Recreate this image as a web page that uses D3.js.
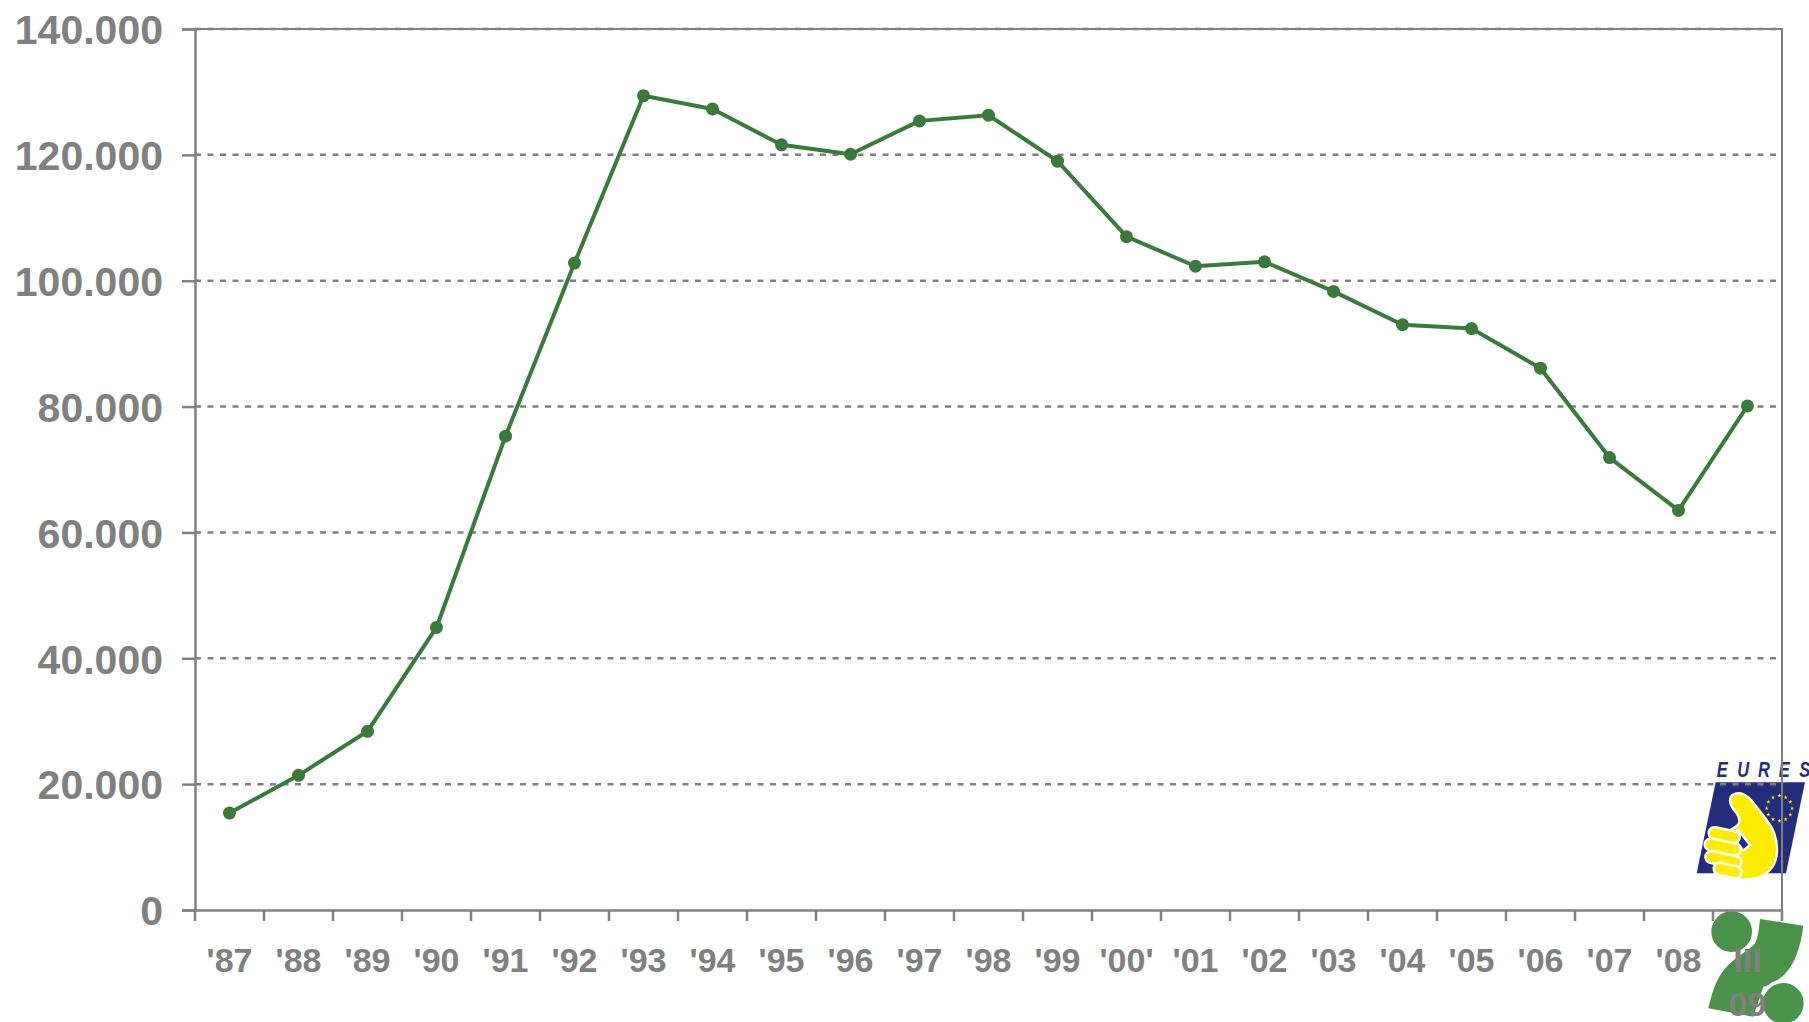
<!DOCTYPE html>
<html lang="en">
<head>
    <meta charset="UTF-8">
    <title>EURES line chart</title>
    <script src="https://d3js.org/d3.v7.min.js"></script>
    <style>
        body { margin: 0; background: #ffffff; }
        svg { display: block; font-family: 'Liberation Sans', Arial, sans-serif; }
        .tick text { fill: #808080; font-weight: bold; }
        .y-axis .tick text { font-size: 41px; }
        .x-axis .tick text { font-size: 34px; }
    </style>
</head>
<body>
    <svg width="1809" height="1022"></svg>
    <script>
        // Data
        const categories = ["'87", "'88", "'89", "'90", "'91", "'92", "'93", "'94", "'95", "'96", "'97", "'98",
            "'99", "'00'", "'01", "'02", "'03", "'04", "'05", "'06", "'07", "'08", "III 09"];
        const values = [15400, 21400, 28400, 44900, 75300, 102800, 129400, 127300, 121600, 120100, 125400, 126300,
            119000, 107000, 102300, 103000, 98300, 93000, 92400, 86100, 71900, 63500, 80100];
        const yTicks = [0, 20000, 40000, 60000, 80000, 100000, 120000, 140000];

        const grey = "#808080";
        const green = "#3a7a3c";

        const margin = { top: 29, right: 27, bottom: 112, left: 195 };
        const W = 1809, H = 1022;
        const width = W - margin.left - margin.right;
        const height = H - margin.top - margin.bottom;

        const svg = d3.select("svg");

        // logos sit underneath everything else
        drawLogos();

        const g = svg.append("g").attr("transform", `translate(${margin.left},${margin.top})`);

        const x = d3.scaleBand().domain(categories).range([0, width]).paddingInner(0).paddingOuter(0);
        const y = d3.scaleLinear().domain([0, 140000]).range([height, 0]);

        const locale = d3.formatLocale({ decimal: ",", thousands: ".", grouping: [3], currency: ["", ""] });
        const fmt = locale.format(",");

        // grid lines
        g.append("g")
            .selectAll("line")
            .data(yTicks.slice(1))
            .join("line")
            .attr("x1", 0).attr("x2", width)
            .attr("y1", d => y(d)).attr("y2", d => y(d))
            .attr("stroke", grey)
            .attr("stroke-width", 2.5)
            .attr("stroke-dasharray", "6,6.5");

        // top and right border
        g.append("path")
            .attr("d", `M0,0H${width}V${height}`)
            .attr("fill", "none")
            .attr("stroke", grey)
            .attr("stroke-width", 2);

        // y axis
        const yAxis = g.append("g")
            .attr("class", "y-axis")
            .call(d3.axisLeft(y).tickValues(yTicks).tickFormat(fmt).tickSize(13).tickPadding(19));
        yAxis.select(".domain").attr("stroke", grey).attr("stroke-width", 2.5);
        yAxis.selectAll(".tick line").attr("stroke", grey).attr("stroke-width", 2.5);
        yAxis.selectAll(".tick text").attr("dy", "0.36em");

        // x axis (labels at band centres, ticks at band edges)
        const xAxis = g.append("g")
            .attr("class", "x-axis")
            .attr("transform", `translate(0,${height})`)
            .call(d3.axisBottom(x).tickSize(0).tickPadding(0));
        xAxis.select(".domain").attr("stroke", grey).attr("stroke-width", 2.5);
        xAxis.selectAll(".tick text")
            .attr("y", 62)
            .attr("dy", 0)
            .each(function (d) {
                const parts = d.split(" ");
                if (parts.length > 1) {
                    const t = d3.select(this).text(null);
                    parts.forEach((p, i) => t.append("tspan").attr("x", 0).attr("dy", i ? 44 : 0).text(p));
                }
            });

        xAxis.append("g")
            .selectAll("line")
            .data(categories.map(c => x(c)).concat([width]))
            .join("line")
            .attr("x1", d => d).attr("x2", d => d)
            .attr("y1", 0).attr("y2", 11)
            .attr("stroke", grey)
            .attr("stroke-width", 2.5);

        // the series
        const cx = d => x(d) + x.bandwidth() / 2;
        const line = d3.line().x((d, i) => cx(categories[i])).y(d => y(d));

        g.append("path")
            .datum(values)
            .attr("fill", "none")
            .attr("stroke", green)
            .attr("stroke-width", 4)
            .attr("stroke-linejoin", "round")
            .attr("d", line);

        g.selectAll(".dot")
            .data(values)
            .join("circle")
            .attr("class", "dot")
            .attr("cx", (d, i) => cx(categories[i]))
            .attr("cy", d => y(d))
            .attr("r", 6.5)
            .attr("fill", green);

        function drawLogos() {
            // drawn in the crop coordinates of the bottom-right corner
            const lg = svg.append("g").attr("transform", "translate(1550,720) scale(0.3333)");

            // EURES
            const blue = "#232d7c";
            const yellow = "#ffec00";
            const letters = ["E", "U", "R", "E", "S"];
            lg.selectAll(".eures")
                .data(letters)
                .join("text")
                .attr("x", (d, i) => 500 + i * 62)
                .attr("y", 170)
                .attr("fill", blue)
                .attr("font-size", 66)
                .attr("font-weight", "bold")
                .attr("font-style", "italic")
                .attr("transform", (d, i) => `translate(${(500 + i * 62) * 0.25},0) scale(0.75,1)`)
                .text(d => d);
            lg.append("path")
                .attr("d", "M497,187L765,187L708,460L440,460Z")
                .attr("fill", blue);
            const stars = d3.range(12).map(i => i * Math.PI / 6);
            lg.selectAll(".star")
                .data(stars)
                .join("path")
                .attr("d", d3.symbol(d3.symbolStar, 50))
                .attr("transform", d => `translate(${688 + 38 * Math.cos(d)},${265 + 38 * Math.sin(d)})`)
                .attr("fill", yellow);

            // hand
            const hand = lg.append("g").attr("stroke", "#ffffff").attr("stroke-width", 7).attr("fill", yellow);
            hand.append("path")
                .attr("d", "M548,225 C570,210 595,228 610,248 L650,300 C690,350 695,430 645,462 C615,482 575,482 545,472 L520,400 L540,330 C560,320 580,310 560,280 C545,262 530,240 548,225 Z");
            hand.append("path")
                .attr("d", "M545,345 L565,330 L600,375 L580,392 Z")
                .attr("fill", blue);
            [[480, 318, 95], [468, 352, 110], [470, 390, 110], [495, 425, 85]].forEach(f => {
                hand.append("rect")
                    .attr("x", f[0]).attr("y", f[1])
                    .attr("width", f[2]).attr("height", 36)
                    .attr("rx", 18)
                    .attr("transform", `rotate(12,${f[0]},${f[1]})`);
            });

            // green mark
            const gr = "#4a924a";
            lg.append("path")
                .attr("d", "M630,597 L760,617 C752,680 735,740 690,775 C665,795 645,800 640,800 L610,890 L475,865 C490,800 505,765 535,735 C565,705 600,690 615,670 C625,650 628,620 630,597 Z")
                .attr("fill", gr);
            lg.append("circle").attr("cx", 545).attr("cy", 635).attr("r", 66)
                .attr("fill", gr).attr("stroke", "#ffffff").attr("stroke-width", 10);
            lg.append("circle").attr("cx", 700).attr("cy", 850).attr("r", 66)
                .attr("fill", gr).attr("stroke", "#ffffff").attr("stroke-width", 10);
        }
    </script>
</body>
</html>
